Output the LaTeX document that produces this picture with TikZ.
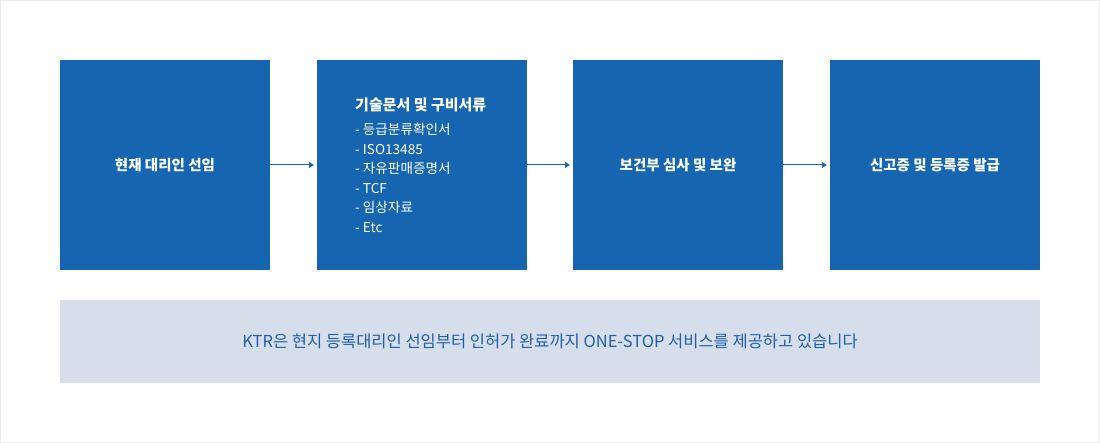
\documentclass[tikz,border=0pt]{standalone}
\usepackage{fontspec}
\setmainfont{Noto Sans CJK KR}
\usetikzlibrary{arrows.meta}
\definecolor{boxblue}{HTML}{1565B0}
\definecolor{panel}{HTML}{D7DEEB}
\definecolor{txtblue}{HTML}{1E5FAF}
\definecolor{frame}{HTML}{EBEBEB}
\begin{document}
\begin{tikzpicture}[x=1pt,y=-1pt,
  stepbox/.style={fill=boxblue,draw=none,minimum width=210pt,minimum height=210pt,inner sep=0pt,text=white,font=\fontsize{14.5}{17}\selectfont\bfseries,align=center},
  conn/.style={draw=boxblue,line width=1pt,-{Triangle[length=5pt,width=6pt]},shorten >=3pt}]
\useasboundingbox (0,0) rectangle (1100,443);
\draw[frame,line width=1pt] (0.5,0.5) rectangle (1099.5,442.5);
\node[stepbox] (b1) at (165,165) {현재 대리인 선임};
\node[stepbox] (b2) at (422,165) {};
\node[stepbox] (b3) at (678,165) {보건부 심사 및 보완};
\node[stepbox] (b4) at (935,165) {신고증 및 등록증 발급};
\node[anchor=north west,inner sep=0pt,text=white,align=left,font=\fontsize{13.6}{19.6}\selectfont] (l2) at (355,98)
 {{\fontsize{15}{17}\selectfont\bfseries 기술문서 및 구비서류}\\[4pt]
  - 등급분류확인서\\
  - ISO13485\\
  - 자유판매증명서\\
  - TCF\\
  - 임상자료\\
  - Etc};
\draw[conn] (b1.east) -- (b2.west);
\draw[conn] (b2.east) -- (b3.west);
\draw[conn] (b3.east) -- (b4.west);
\node[fill=panel,minimum width=980pt,minimum height=83pt,inner sep=0pt,text=txtblue,font=\fontsize{16.5}{19}\selectfont] (note) at (550,341.5)
 {KTR은 현지 등록대리인 선임부터 인허가 완료까지 ONE-STOP 서비스를 제공하고 있습니다};
\end{tikzpicture}
\end{document}
